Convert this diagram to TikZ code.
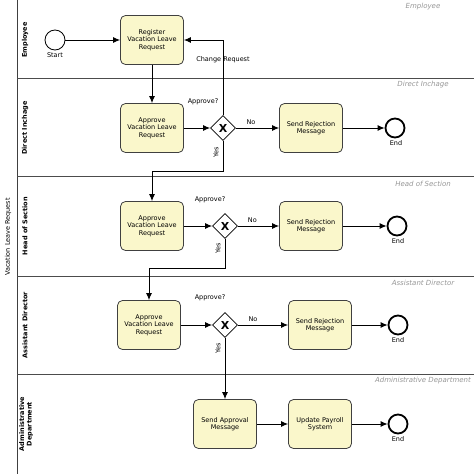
\documentclass[tikz,border=0pt]{standalone}
\usepackage{fontspec}
\setmainfont{DejaVu Sans}
\usetikzlibrary{arrows.meta,shapes.geometric,positioning}
\definecolor{taskfill}{RGB}{250,247,203}
\definecolor{lanegray}{RGB}{150,150,150}

\begin{document}
\begin{tikzpicture}[x=1pt,y=-1pt,
  task/.style={draw=black!75, line width=0.8pt, rounded corners=5pt, fill=taskfill,
    minimum width=63pt, minimum height=49pt, align=center, inner sep=1pt,
    font=\fontsize{6.5}{7.5}\selectfont},
  startev/.style={circle, draw, line width=0.8pt, fill=white, minimum size=20pt, inner sep=0pt},
  endev/.style={circle, draw, line width=1.8pt, fill=white, minimum size=19pt, inner sep=0pt},
  gate/.style={diamond, draw, line width=0.8pt, fill=white, minimum size=25pt, inner sep=0pt,
    font=\bfseries\fontsize{11}{11}\selectfont},
  flow/.style={-{Latex[length=7pt,width=6pt]}, line width=0.9pt},
  lbl/.style={font=\fontsize{6.5}{7.5}\selectfont},
  lanetitle/.style={rotate=90, font=\bfseries\fontsize{6.5}{7.5}\selectfont, align=center},
  lanename/.style={text=lanegray, font=\itshape\fontsize{7}{8}\selectfont}]

\useasboundingbox (0,0) rectangle (474,474);

% Pool and lanes
\draw[line width=0.9pt, black!75] (17,0) -- (17,474);
\foreach \y in {78,176,276,374}
  \draw[line width=1pt, black!70] (17,\y) -- (474,\y);
\node[rotate=90, font=\fontsize{6.5}{7.5}\selectfont] (pool) at (8,237) {Vacation Leave Request};

\node[lanetitle] (lemp) at (25,40) {Employee};
\node[lanetitle] (ldir) at (25,128) {Direct Inchage};
\node[lanetitle] (lhead) at (25,226) {Head of Section};
\node[lanetitle] (lasst) at (25,325) {Assistant Director};
\node[lanetitle] (ladm) at (26,424) {Administrative\\Department};

\node[lanename] (nemp) at (423,7) {Employee};
\node[lanename] (ndir) at (423,85) {Direct Inchage};
\node[lanename] (nhead) at (423,184) {Head of Section};
\node[lanename] (nasst) at (423,283) {Assistant Director};
\node[lanename] (nadm) at (423,381) {Administrative Department};

% Employee
\node[startev] (start) at (55,40) {};
\node[lbl] (startlbl) at (55,55) {Start};
\node[task] (reg) at (152,40) {Register\\Vacation Leave\\Request};
\draw[flow] (start) -- (reg);

% Direct Inchage
\node[task] (app1) at (152,128) {Approve\\Vacation Leave\\Request};
\node[gate] (gw1) at (223,128) {X};
\node[task] (rej1) at (311,128) {Send Rejection\\Message};
\node[endev] (end1) at (395,128) {};
\node[lbl] (end1lbl) at (396,143) {End};
\node[lbl] (ask1) at (203,102) {Approve?};
\node[lbl, rotate=90] (yes1) at (216,152) {Yes};
\draw[flow] (reg) -- (app1);
\draw[flow] (app1) -- (gw1);
\draw[flow] (gw1) -- node[lbl, above, pos=0.35] {No} (rej1);
\draw[flow] (rej1) -- (end1);
\draw[flow] (gw1.north) |- node[lbl, pos=0.37] {Change Request} (reg.east);

% Head of Section
\node[task] (app2) at (152,226) {Approve\\Vacation Leave\\Request};
\node[gate] (gw2) at (225,226) {X};
\node[task] (rej2) at (311,226) {Send Rejection\\Message};
\node[endev] (end2) at (397,226) {};
\node[lbl] (end2lbl) at (398,241) {End};
\node[lbl] (ask2) at (210,200) {Approve?};
\node[lbl, rotate=90] (yes2) at (218,248) {Yes};
\draw[flow] (gw1.south) -- ++(0,31) -| (app2.north);
\draw[flow] (app2) -- (gw2);
\draw[flow] (gw2) -- node[lbl, above, pos=0.35] {No} (rej2);
\draw[flow] (rej2) -- (end2);

% Assistant Director
\node[task] (app3) at (149,325) {Approve\\Vacation Leave\\Request};
\node[gate] (gw3) at (225,325) {X};
\node[task] (rej3) at (320,325) {Send Rejection\\Message};
\node[endev] (end3) at (398,325) {};
\node[lbl] (end3lbl) at (398,340) {End};
\node[lbl] (ask3) at (210,298) {Approve?};
\node[lbl, rotate=90] (yes3) at (218,348) {Yes};
\draw[flow] (gw2.south) -- ++(0,30) -| (app3.north);
\draw[flow] (app3) -- (gw3);
\draw[flow] (gw3) -- node[lbl, above, pos=0.3] {No} (rej3);
\draw[flow] (rej3) -- (end3);

% Administrative Department
\node[task] (approve) at (225,424) {Send Approval\\Message};
\node[task] (payroll) at (320,424) {Update Payroll\\System};
\node[endev] (end4) at (398,424) {};
\node[lbl] (end4lbl) at (398,439) {End};
\draw[flow] (gw3) -- (approve);
\draw[flow] (approve) -- (payroll);
\draw[flow] (payroll) -- (end4);

\end{tikzpicture}
\end{document}
